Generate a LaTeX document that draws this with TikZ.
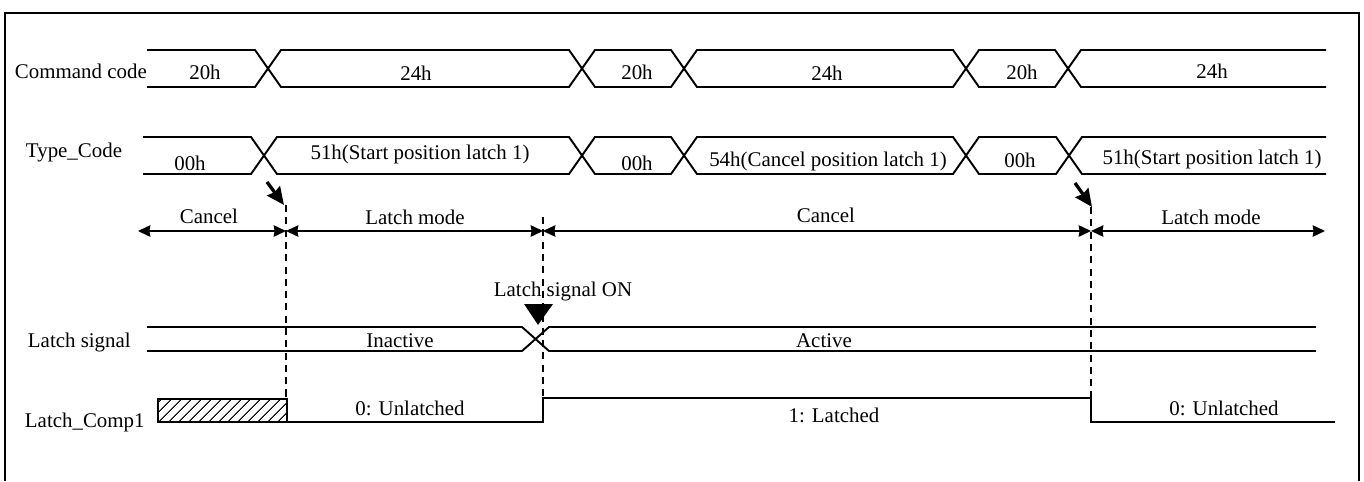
\documentclass[tikz,border=0pt]{standalone}
\usepackage{fontspec}
\setmainfont{Liberation Serif}
\usepackage{tikz}
\usetikzlibrary{arrows.meta, patterns.meta}

\begin{document}
\begin{tikzpicture}[x=0.02cm, y=-0.02cm, line width=1.1pt,
    >={Stealth[length=7pt, width=6.5pt, inset=0.5pt]},
    lbl/.style={anchor=base, inner sep=0pt, font=\fontsize{11.9}{14}\selectfont},
    rowname/.style={lbl, anchor=base west},
    guide/.style={dash pattern=on 4pt off 3pt, line width=1.1pt},
    pointer/.style={-{Stealth[length=10pt, width=9pt, inset=1pt]}, line width=1.9pt}]

    \useasboundingbox (0,0) rectangle (1364,481);

    % Frame (open at the bottom)
    \draw (5,481) -- (5,13) -- (1359,13) -- (1359,481);

    % ==========================================
    % Command code bus
    % ==========================================
    \node[rowname] (cmdname) at (14,78) {Command code};
    \draw (147,50) -- (255,50) -- (281,87) -- (569,87) -- (595,50) -- (671,50) -- (697,87)
          -- (953,87) -- (979,50) -- (1055,50) -- (1081,87) -- (1326,87);
    \draw (147,87) -- (255,87) -- (281,50) -- (569,50) -- (595,87) -- (671,87) -- (697,50)
          -- (953,50) -- (979,87) -- (1055,87) -- (1081,50) -- (1326,50);
    \node[lbl] (cmd1) at (205,79) {20h};
    \node[lbl] (cmd2) at (416,80) {24h};
    \node[lbl] (cmd3) at (637,79) {20h};
    \node[lbl] (cmd4) at (827,80) {24h};
    \node[lbl] (cmd5) at (1022,79) {20h};
    \node[lbl] (cmd6) at (1212,78) {24h};

    % ==========================================
    % Type_Code bus
    % ==========================================
    \node[rowname] (typename) at (25,157) {Type\_Code};
    \draw (143,137) -- (251,137) -- (277,174) -- (569,174) -- (595,137) -- (671,137) -- (697,174)
          -- (953,174) -- (979,137) -- (1056,137) -- (1082,174) -- (1326,174);
    \draw (143,174) -- (251,174) -- (277,137) -- (569,137) -- (595,174) -- (671,174) -- (697,137)
          -- (953,137) -- (979,174) -- (1056,174) -- (1082,137) -- (1326,137);
    \node[lbl] (type1) at (190,170) {00h};
    \node[lbl] (type2) at (420,159) {51h(Start position latch 1)};
    \node[lbl] (type3) at (637,170) {00h};
    \node[lbl] (type4) at (828,166) {54h(Cancel position latch 1)};
    \node[lbl] (type5) at (1020,167) {00h};
    \node[lbl] (type6) at (1212,164) {51h(Start position latch 1)};

    % Pointers to the mode changes
    \draw[pointer] (267,182) -- (284,205);
    \draw[pointer] (1075,183) -- (1092,207);

    % ==========================================
    % Mode arrows and guide lines
    % ==========================================
    \coordinate (ma) at (138,231);
    \coordinate (mb) at (286,231);
    \coordinate (mc) at (543,231);
    \coordinate (md) at (1091,231);
    \coordinate (me) at (1325,231);

    \draw[guide] (286,205) -- (286,399);
    \draw[guide] (543,217) -- (543,398);
    \draw[guide] (1091,207) -- (1091,398);

    \draw[<->] (ma) -- (mb);
    \draw[<->] (mb) -- (mc);
    \draw[<->] (mc) -- (md);
    \draw[<->] (md) -- (me);
    \node[lbl] (mode1) at (209,223) {Cancel};
    \node[lbl] (mode2) at (415,224) {Latch mode};
    \node[lbl] (mode3) at (826,222) {Cancel};
    \node[lbl] (mode4) at (1211,224) {Latch mode};

    % ==========================================
    % Latch signal
    % ==========================================
    \node[rowname] (signame) at (27,347) {Latch signal};
    \draw (147,327) -- (522,327) -- (549,351) -- (1316,351);
    \draw (147,351) -- (522,351) -- (549,327) -- (1316,327);
    \node[lbl] (inactive) at (400,347) {Inactive};
    \node[lbl] (active) at (824,347) {Active};

    % Latch signal ON marker
    \node[lbl] (sigon) at (563,296) {Latch signal ON};
    \fill (524,304) -- (553,304) -- (538,325) -- cycle;

    % ==========================================
    % Latch_Comp1
    % ==========================================
    \node[rowname] (compname) at (24,427) {Latch\_Comp1};
    \draw[pattern={Lines[angle=45, distance=4pt, line width=0.6pt]}] (158,399) rectangle (287,422);
    \draw (287,422) -- (543,422) -- (543,398) -- (1091,398) -- (1091,422) -- (1335,422);
    \node[lbl] (comp1) at (410,415) {0: Unlatched};
    \node[lbl] (comp2) at (834,422) {1: Latched};
    \node[lbl] (comp3) at (1224,415) {0: Unlatched};

\end{tikzpicture}
\end{document}
